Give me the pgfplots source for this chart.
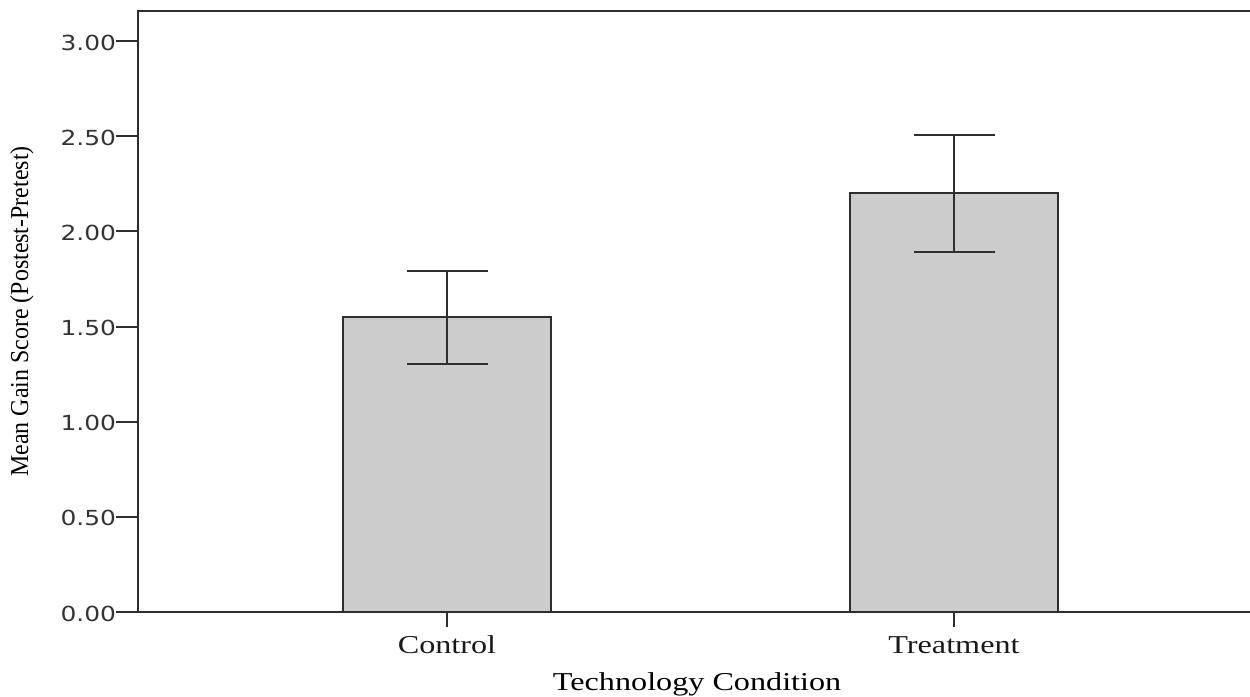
\documentclass[border=0pt]{standalone}
\usepackage{pgfplots}
\pgfplotsset{compat=1.18}
\usepackage{fontspec}
\setmainfont{Liberation Serif}
\newfontfamily\tickfont[FakeStretch=1.2]{DejaVu Sans}
\newfontfamily\widefont[FakeStretch=1.25]{Liberation Serif}
\newfontfamily\narrowfont[FakeStretch=0.93]{Liberation Serif}
\usetikzlibrary{calc}
\definecolor{barfill}{HTML}{CCCCCC}
\definecolor{edge}{HTML}{2E2E2E}
\begin{document}
\begin{tikzpicture}
\begin{axis}[
  name=a,
  scale only axis,
  width=450pt, height=240.4pt,
  xmin=-0.6095, xmax=1.6095,
  ymin=0, ymax=3.158,
  xtick={0,1}, xticklabels={Control,Treatment},
  ytick={0,0.5,1,1.5,2,2.5,3},
  xtick pos=bottom, ytick pos=left,
  tick align=outside,
  x tick style={edge, line width=0.8pt, /pgfplots/major tick length=6pt},
  y tick style={edge, line width=0.8pt, /pgfplots/major tick length=8.8pt},
  axis line style={edge, line width=0.8pt},
  yticklabel style={font=\tickfont\fontsize{8.3}{10}\selectfont, text=black!80, inner sep=0.5pt, anchor=east, xshift=-3.8pt, yshift=-0.6pt},
  xticklabel style={font=\widefont\fontsize{10.3}{12}\selectfont, text=black!90, anchor=base, yshift=-12.4pt},
  /pgf/number format/.cd, fixed, fixed zerofill, precision=2, assume math mode=true,
  /pgfplots/.cd,
  ylabel={Mean Gain Score (Postest-Pretest)},
  xlabel={Technology Condition},
  ylabel style={font=\narrowfont\fontsize{10.3}{12}\selectfont, anchor=center, at={(axis description cs:-0.1031,0.5)}},
  xlabel style={font=\widefont\fontsize{10.3}{12}\selectfont, anchor=base, at={(axis description cs:0.497,-0.130)}},
  ybar, bar width=83.2pt,
  clip=false,
]
\addplot[fill=barfill, draw=edge, line width=0.8pt,
  error bars/.cd, y dir=both, y explicit,
  error bar style={edge, line width=0.8pt},
  error mark options={edge, line width=0.8pt, mark size=16.2pt, rotate=90}]
  coordinates {(0,1.548) +- (0,0.245) (1,2.200) +- (0,0.309)};
\end{axis}
\pgfresetboundingbox
\path ($(a.south west)+(-55.2pt,-33.6pt)$) rectangle ($(a.north east)+(-5.2pt,4.4pt)$);
\end{tikzpicture}
\end{document}
